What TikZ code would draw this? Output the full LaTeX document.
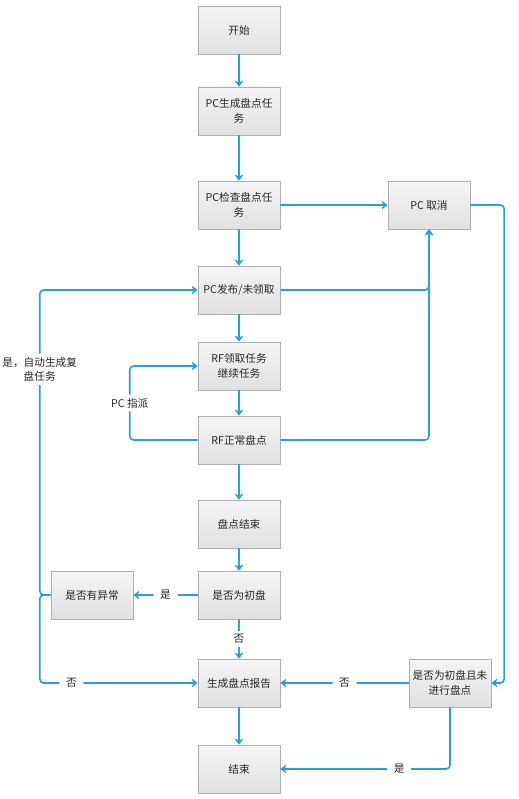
\documentclass[tikz,border=0pt]{standalone}
\usepackage{fontspec}
\setmainfont{Noto Sans CJK SC}
\usetikzlibrary{arrows.meta}

\definecolor{lineblue}{RGB}{41,160,214}
\definecolor{boxline}{RGB}{176,176,176}

\begin{document}
\begin{tikzpicture}[x=0.75pt,y=-0.75pt,>={Stealth[length=4.5pt,width=6.5pt,inset=1.2pt]},
  box/.style={draw=boxline,top color=white!96!black,bottom color=black!12,minimum width=61.5pt,minimum height=36pt,inner sep=1pt,align=center,text=black!85,font=\fontsize{8}{11}\selectfont},
  flow/.style={->,draw=lineblue,line width=1.2pt,rounded corners=3pt},
  lbl/.style={fill=white,inner xsep=5pt,inner ysep=2.5pt,text=black!85,font=\fontsize{8}{11}\selectfont}]
\useasboundingbox (0,0) rectangle (518,799);

% main column
\node[box] (ks) at (239,30) {开始};
\node[box] (sc) at (239,111) {PC生成盘点任\\务};
\node[box] (jc) at (239,205) {PC检查盘点任\\务};
\node[box] (qx) at (429,205) {PC 取消};
\node[box] (fb) at (239,290) {PC发布/未领取};
\node[box] (lq) at (239,366) {RF领取任务\\继续任务};
\node[box] (zc) at (239,440) {RF正常盘点};
\node[box] (jsu) at (239,524) {盘点结束};
\node[box] (cp) at (239,595) {是否为初盘};
\node[box] (yc) at (92,595) {是否有异常};
\node[box] (bg) at (239,683) {生成盘点报告};
\node[box] (cpw) at (450,683) {是否为初盘且未\\进行盘点};
\node[box] (js) at (239,769) {结束};

\draw[flow] (ks) -- (sc);
\draw[flow] (sc) -- (jc);
\draw[flow] (jc) -- (qx);
\draw[flow] (jc) -- (fb);
\draw[flow] (fb) -| (qx);
\draw[flow] (zc) -| (qx);
\draw[flow] (qx.east) -- ++(34,0) |- (cpw.east);
\draw[flow] (fb) -- (lq);
\draw[flow] (lq) -- (zc);
\draw[flow] (zc.west) -- ++(-68,0) |- node[lbl,pos=.25]{PC 指派} (lq.west);
\draw[flow] (zc) -- (jsu);
\draw[flow] (jsu) -- (cp);
\draw[flow] (cp) -- node[lbl]{是} (yc);
\draw[flow] (cp) -- node[lbl]{否} (bg);

% left loop
\draw[flow] (yc.west) -- ++(-11,0) |- node[lbl,pos=.37,align=center]{是，自动生成复\\盘任务} (fb.west);
\draw[flow] (yc.west) -- ++(-11,0) |- node[lbl,pos=.6]{否} (bg.west);

\draw[flow] (cpw) -- node[lbl]{否} (bg);
\draw[flow] (cpw.south) |- node[lbl,pos=.65]{是} (js.east);
\draw[flow] (bg) -- (js);

\end{tikzpicture}
\end{document}
